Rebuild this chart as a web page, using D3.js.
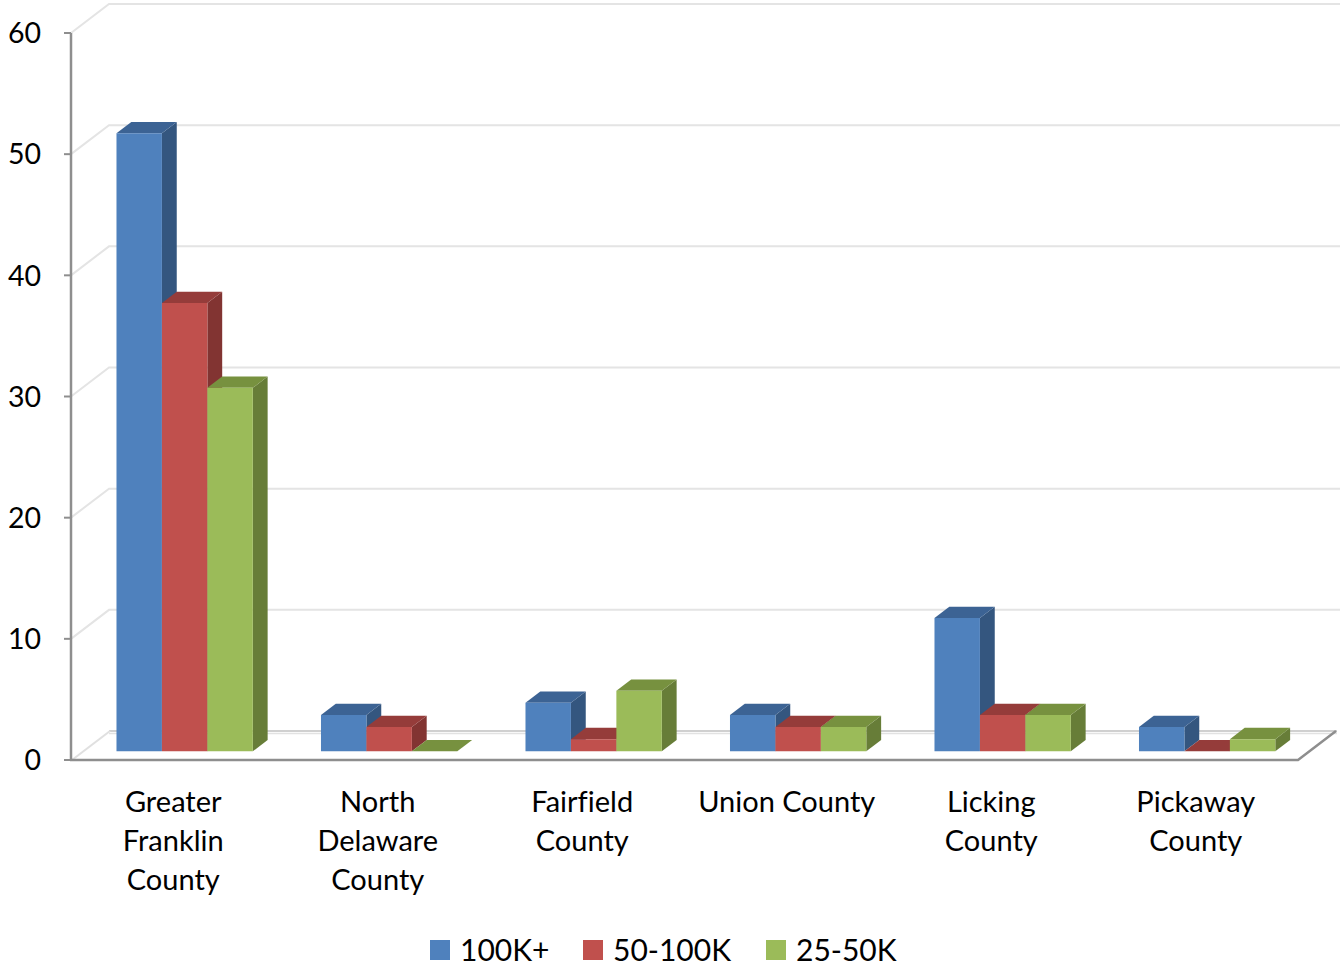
<!DOCTYPE html>
<html>
<head>
<meta charset="utf-8">
<script src="https://cdn.jsdelivr.net/npm/d3@7"></script>
<style>
  html, body { margin: 0; padding: 0; background: #fff; }
  svg { display: block; }
  text { font-family: Lato, "Open Sans", sans-serif; fill: #000; font-variant-ligatures: none; }
</style>
</head>
<body>
<svg id="chart" width="1340" height="966"></svg>
<script>
// Households by income band, per county
const categories = [
  "Greater\nFranklin\nCounty",
  "North\nDelaware\nCounty",
  "Fairfield\nCounty",
  "Union County",
  "Licking\nCounty",
  "Pickaway\nCounty"
];
const seriesNames = ["100K+", "50-100K", "25-50K"];
const values100kPlus = [51, 3, 4, 3, 11, 2];
const values50to100k = [37, 2, 1, 2, 3, 0];
const values25to50k = [30, 0, 5, 2, 3, 1];
const yTicks = [0, 10, 20, 30, 40, 50, 60];

const seriesValues = [values100kPlus, values50to100k, values25to50k];
const colors = [
  { front: "#4F81BD", side: "#34567F", top: "#3C6394" },
  { front: "#C0504D", side: "#823432", top: "#953C3A" },
  { front: "#9BBB59", side: "#677D38", top: "#77913F" }
];

const svg = d3.select("#chart");

// Oblique projection of the floor depth: d = 0 front edge, d = 1 back wall
const DX = 38, DY = -29;
const proj = (x, y, d) => [x + DX * d, y + DY * d];
const BAR_D0 = 0.3, BAR_D1 = 0.69;

const x = d3.scaleBand()
  .domain(categories)
  .range([71, 1298])
  .paddingInner(1 / 3)
  .paddingOuter(1 / 6);
const xs = d3.scaleBand().domain(seriesNames).range([0, x.bandwidth()]);
const y = d3.scaleLinear().domain([0, 60]).range([760, 33]);

const line = d3.line();

// Back wall and side wall gridlines
const grid = svg.append("g");
yTicks.forEach(v => {
  const a = proj(71, y(v), 0), b = proj(71, y(v), 1);
  const pts = v === 0 ? [b, [1337, b[1]]] : [a, b, [1340, b[1]]];
  grid.append("path")
    .attr("d", line(pts))
    .attr("fill", "none")
    .attr("stroke", v === 0 ? "#d0d0d0" : "#e4e4e4")
    .attr("stroke-width", 2);
});
// floor thickness under the back edge
grid.append("path")
  .attr("d", line([[proj(71, y(0), 1)[0], y(0) + DY + 2.5], [1337, y(0) + DY + 2.5]]))
  .attr("stroke", "#e2e2e2").attr("stroke-width", 1.5).attr("fill", "none");
// left floor edge
grid.append("path")
  .attr("d", line([proj(72, y(0), 0), proj(72, y(0), 1)]))
  .attr("stroke", "#e0e0e0").attr("stroke-width", 2).attr("fill", "none");

// Bars: side, top, then front, painted left to right
const bars = svg.append("g");
categories.forEach((c, i) => {
  seriesNames.forEach((s, j) => {
    const v = seriesValues[j][i];
    const x0 = x(c) + xs(s), x1 = x0 + xs.bandwidth();
    const yb = y(0), yt = y(v);
    const col = colors[j];
    const f = (px, py) => proj(px, py, BAR_D0);
    const b = (px, py) => proj(px, py, BAR_D1);
    if (v > 0) {
      bars.append("path")
        .attr("d", line([f(x1, yb), b(x1, yb), b(x1, yt), f(x1, yt)]) + "Z")
        .attr("fill", col.side);
    }
    bars.append("path")
      .attr("d", line([f(x0, yt), f(x1, yt), b(x1, yt), b(x0, yt)]) + "Z")
      .attr("fill", col.top);
    if (v > 0) {
      bars.append("path")
        .attr("d", line([f(x0, yb), f(x1, yb), f(x1, yt), f(x0, yt)]) + "Z")
        .attr("fill", col.front);
    }
  });
});

// Axis lines
const axis = svg.append("g");
axis.append("path")
  .attr("d", line([[71, y(60)], [71, y(0)]]))
  .attr("stroke", "#8e8e8e").attr("stroke-width", 2.5).attr("fill", "none");
axis.append("path")
  .attr("d", line([[70, y(0)], [1298, y(0)], proj(1298, y(0), 1)]))
  .attr("stroke", "#8e8e8e").attr("stroke-width", 2.5).attr("fill", "none");
yTicks.forEach(v => {
  axis.append("path")
    .attr("d", line([[64, y(v)], [71, y(v)]]))
    .attr("stroke", "#8e8e8e").attr("stroke-width", 2);
  axis.append("text")
    .attr("x", 41).attr("y", y(v))
    .attr("dy", "0.36em")
    .attr("text-anchor", "end")
    .attr("font-size", 28.5)
    .text(v);
});

// Category labels
categories.forEach(c => {
  const cx = x(c) + x.bandwidth() / 2;
  const t = svg.append("text")
    .attr("text-anchor", "middle")
    .attr("font-size", 29);
  c.split("\n").forEach((ln, k) => {
    t.append("tspan").attr("x", cx).attr("y", 812 + k * 39).text(ln);
  });
});

// Legend
const legendX = [430, 583, 766];
seriesNames.forEach((s, j) => {
  svg.append("rect")
    .attr("x", legendX[j]).attr("y", 940)
    .attr("width", 20).attr("height", 20)
    .attr("fill", colors[j].front);
  svg.append("text")
    .attr("x", legendX[j] + 30).attr("y", 961)
    .attr("font-size", 30)
    .text(s);
});
</script>
</body>
</html>
